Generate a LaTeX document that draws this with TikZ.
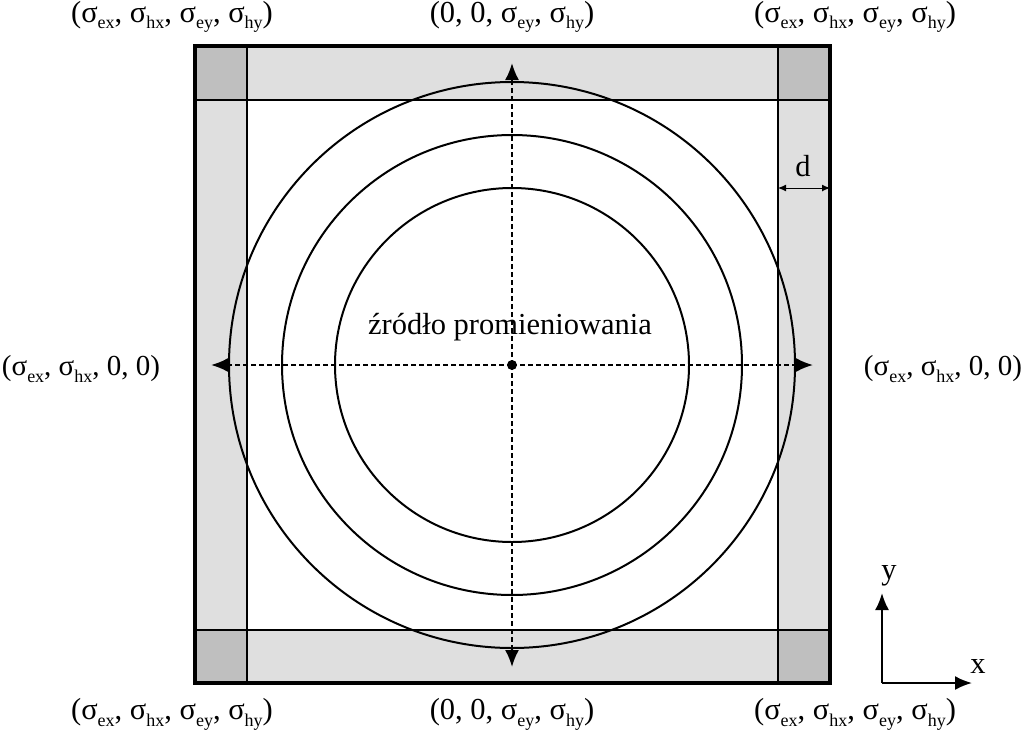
\documentclass[tikz,border=0pt]{standalone}
\usepackage{fontspec}
\setmainfont{Liberation Serif}
\usetikzlibrary{arrows.meta}
\newcommand{\sgm}[1]{σ\raisebox{-0.22em}{\fontsize{18}{18}\selectfont #1}}
\tikzset{
  lbl/.style={font=\fontsize{30.5}{32}\selectfont, inner sep=0pt},
  lblm/.style={font=\fontsize{29}{31}\selectfont, inner sep=0pt},
  thin/.style={line width=2pt},
  dsh/.style={line width=2pt, dash pattern=on 5pt off 3pt, -{Latex[length=17pt,width=14pt]}},
  arr/.style={line width=2pt, -{Latex[length=17pt,width=14pt]}},
}
\begin{document}
\begin{tikzpicture}[x=1pt,y=-1pt]
\useasboundingbox (0,0) rectangle (1024,731);
% PML regions
\fill[gray!25] (195,46) rectangle (830,100);
\fill[gray!25] (195,630) rectangle (830,683);
\fill[gray!25] (195,46) rectangle (247,683);
\fill[gray!25] (778,46) rectangle (830,683);
\fill[gray!50] (195,46) rectangle (247,100);
\fill[gray!50] (778,46) rectangle (830,100);
\fill[gray!50] (195,630) rectangle (247,683);
\fill[gray!50] (778,630) rectangle (830,683);
\draw[thin] (195,100) -- (830,100);
\draw[thin] (195,630) -- (830,630);
\draw[thin] (247,46) -- (247,683);
\draw[thin] (778,46) -- (778,683);
% circles
\coordinate (c) at (512,365);
\draw[thin] (c) circle[radius=283];
\draw[thin] (c) circle[radius=230];
\draw[thin] (c) circle[radius=177];
% dashed arrows
\coordinate (L) at (211,365);
\coordinate (R) at (813,365);
\coordinate (T) at (512,63);
\coordinate (B) at (512,667);
\draw[dsh] (c) -- (L);
\draw[dsh] (c) -- (R);
\draw[dsh] (c) -- (T);
\draw[dsh] (c) -- (B);
\fill (c) circle[radius=5];
\node[lbl] (src) at (510,327) {źródło promieniowania};
% outer border
\draw[line width=4.5pt] (195,46) rectangle (830,683);
% d
\coordinate (d1) at (778,188);
\coordinate (d2) at (830,188);
\draw[line width=1pt, {Latex[length=8pt,width=7pt]}-{Latex[length=8pt,width=7pt]}] (d1) -- (d2);
\node[lbl] (dl) at (803,166) {d};
% axes
\coordinate (o) at (882,683);
\coordinate (ay) at (882,593);
\coordinate (ax) at (972,683);
\draw[arr] (o) -- (ay);
\draw[arr] (o) -- (ax);
\node[lbl] (yl) at (889,576) {y};
\node[lbl] (xl) at (978,666) {x};
% labels
\node[lbl] (tl) at (172,17) {(\sgm{ex}, \sgm{hx}, \sgm{ey}, \sgm{hy})};
\node[lbl] (tc) at (512,17) {(0, 0, \sgm{ey}, \sgm{hy})};
\node[lbl] (tr) at (855,17) {(\sgm{ex}, \sgm{hx}, \sgm{ey}, \sgm{hy})};
\node[lbl] (bl) at (172,714) {(\sgm{ex}, \sgm{hx}, \sgm{ey}, \sgm{hy})};
\node[lbl] (bc) at (512,714) {(0, 0, \sgm{ey}, \sgm{hy})};
\node[lbl] (br) at (855,714) {(\sgm{ex}, \sgm{hx}, \sgm{ey}, \sgm{hy})};
\node[lblm] (ml) at (81,369) {(\sgm{ex}, \sgm{hx}, 0, 0)};
\node[lblm] (mr) at (943,369) {(\sgm{ex}, \sgm{hx}, 0, 0)};
\end{tikzpicture}
\end{document}
